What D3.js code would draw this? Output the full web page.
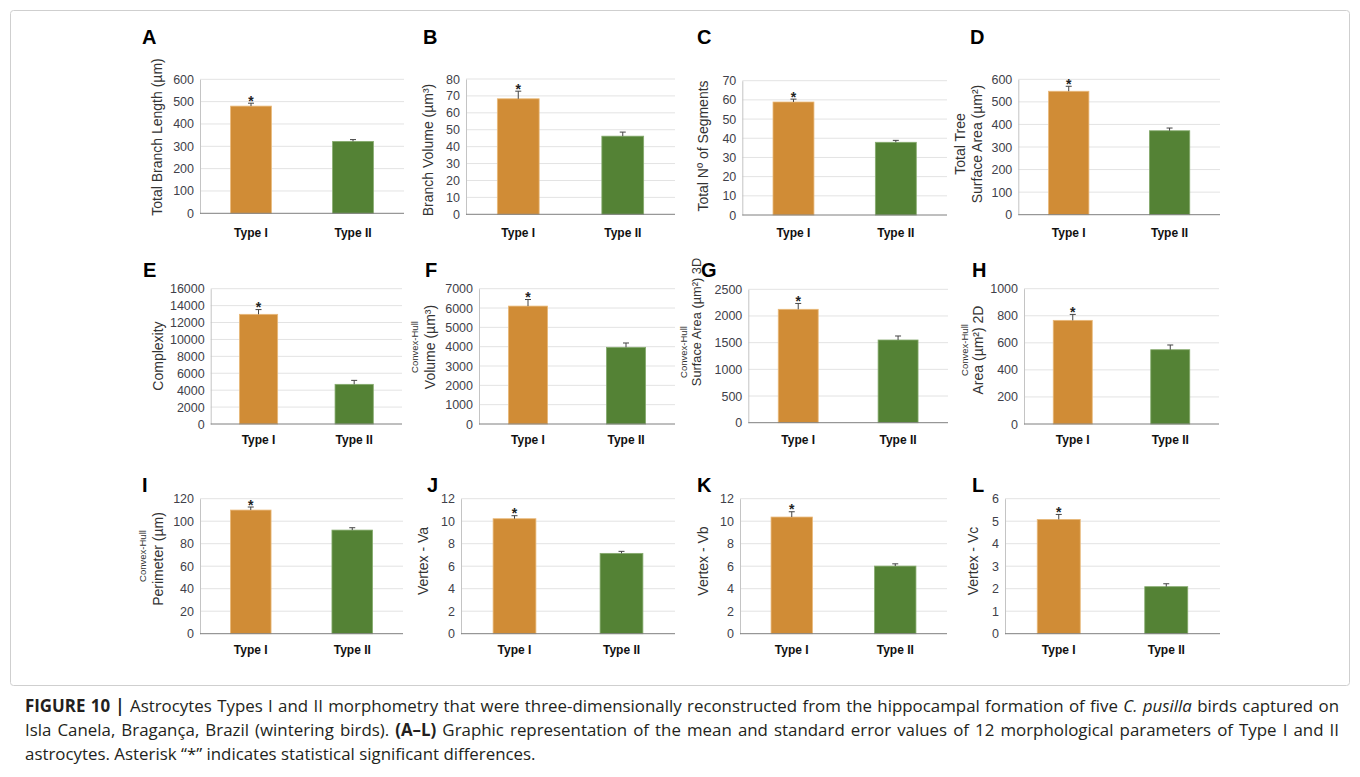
<!DOCTYPE html>
<html>
<head>
<meta charset="utf-8">
<script src="https://cdn.jsdelivr.net/npm/d3@7"></script>
<style>
  body { margin: 0; background: #fff; }
  svg { font-family: "Liberation Sans", Arial, Helvetica, sans-serif; }
</style>
</head>
<body>
<script>
// ---- data ----
const categories = ["Type I", "Type II"];
const panelLetters = ["A", "B", "C", "D", "E", "F", "G", "H", "I", "J", "K", "L"];
const typeIMean  = [480, 68.3, 58.9, 547, 12970, 6100, 2125, 766, 109.9, 10.22, 10.37, 5.08];
const typeISE    = [13, 4.5, 1.5, 22, 560, 340, 110, 44, 2.7, 0.27, 0.47, 0.22];
const typeIIMean = [322, 46.2, 37.9, 372, 4690, 3966, 1550, 549, 92.1, 7.14, 6.01, 2.09];
const typeIISE   = [8, 2.4, 1.0, 12, 470, 225, 75, 35, 2.1, 0.18, 0.2, 0.13];
const yMax  = [600, 80, 70, 600, 16000, 7000, 2500, 1000, 120, 12, 12, 6];
const yStep = [100, 10, 10, 100, 2000, 1000, 500, 200, 20, 2, 2, 1];
const yTitles = [
  ["Total Branch Length (µm)"], ["Branch Volume (µm³)"], ["Total Nº of Segments"],
  ["Total Tree", "Surface Area (µm²)"], ["Complexity"], ["Volume (µm³)"],
  ["Surface Area (µm²) 3D"], ["Area (µm²) 2D"], ["Perimeter (µm)"],
  ["Vertex - Va"], ["Vertex - Vb"], ["Vertex - Vc"]
];
const ySubTitles = ["", "", "", "", "", "Convex-Hull", "Convex-Hull", "Convex-Hull", "Convex-Hull", "", "", ""];
const significant = [true, true, true, true, true, true, true, true, true, true, true, true];

const captionLines = [
  [["b", "FIGURE 10 | "], ["n", "Astrocytes Types I and II morphometry that were three-dimensionally reconstructed from the hippocampal formation of five "], ["i", "C. pusilla"], ["n", " birds captured on"]],
  [["n", "Isla Canela, Bragança, Brazil (wintering birds). "], ["b", "(A–L)"], ["n", " Graphic representation of the mean and standard error values of 12 morphological parameters of Type I and II"]],
  [["n", "astrocytes. Asterisk “*” indicates statistical significant differences."]]
];

// ---- layout (pixel positions of each panel) ----
// x0: y axis, x1: right end of grid, y0: top tick, y1: baseline, lx/ly: letter,
// tx/ty: title centre, ts: title size, sx/sy: sub title centre, cy: category label baseline
const layout = [
  {x0: 200,   x1: 404,  y0: 79.3,  y1: 213.3, lx: 142, ly: 44,  tx: [157], ty: 137, ts: 14, cy: 237},
  {x0: 466,   x1: 675,  y0: 79,    y1: 214.3, lx: 423, ly: 44,  tx: [428], ty: 150, ts: 14, cy: 237},
  {x0: 742.3, x1: 947,  y0: 80.7,  y1: 215,   lx: 697, ly: 44,  tx: [703], ty: 146, ts: 14, cy: 237},
  {x0: 1018.3,x1: 1220, y0: 79.3,  y1: 214.7, lx: 970, ly: 44,  tx: [960, 977.5], ty: 144, ts: 14, cy: 237},
  {x0: 210.7, x1: 402,  y0: 288.7, y1: 424,   lx: 143, ly: 277, tx: [158], ty: 356, ts: 14, cy: 444},
  {x0: 479,   x1: 675,  y0: 288.7, y1: 424,   lx: 425, ly: 277, tx: [430], ty: 347, ts: 14, sx: 415, sy: 347, cy: 444},
  {x0: 748.3, x1: 948,  y0: 289.3, y1: 422.7, lx: 701, ly: 277, tx: [697], ty: 322, ts: 12.8, sx: 684, sy: 352, cy: 444},
  {x0: 1024,  x1: 1219, y0: 288.7, y1: 424,   lx: 972, ly: 277, tx: [978], ty: 350, ts: 14, sx: 965, sy: 350, cy: 444},
  {x0: 200,   x1: 403,  y0: 498.7, y1: 633.7, lx: 142, ly: 492, tx: [158], ty: 559, ts: 14, sx: 143, sy: 556, cy: 654},
  {x0: 461,   x1: 675,  y0: 498.7, y1: 633.7, lx: 427, ly: 492, tx: [423], ty: 561, ts: 14, cy: 654},
  {x0: 740,   x1: 947,  y0: 498.7, y1: 633.7, lx: 697, ly: 492, tx: [703], ty: 561, ts: 14, cy: 654},
  {x0: 1005,  x1: 1220, y0: 498.7, y1: 633.7, lx: 972, ly: 492, tx: [973], ty: 561, ts: 14, cy: 654}
];

const barColors = ["#d08c36", "#548235"];
const barStroke = ["#e9b97a", "#86ab6e"];

const svg = d3.select("body").append("svg")
  .attr("width", 1360).attr("height", 777);

svg.append("rect")
  .attr("x", 10.5).attr("y", 10.5)
  .attr("width", 1339).attr("height", 675)
  .attr("rx", 3)
  .attr("fill", "none").attr("stroke", "#cfcfcf");

panelLetters.forEach((letter, i) => {
  const L = layout[i];
  const g = svg.append("g").attr("class", "panel");

  const x = d3.scaleBand().domain(categories)
    .range([L.x0, L.x1]).paddingInner(0.6).paddingOuter(0.3);
  const y = d3.scaleLinear().domain([0, yMax[i]]).range([L.y1, L.y0]);
  const ticks = d3.range(0, yMax[i] + yStep[i] / 2, yStep[i]);

  // grid
  g.selectAll(".grid").data(ticks.filter(t => t > 0)).join("line")
    .attr("class", "grid")
    .attr("x1", L.x0).attr("x2", L.x1)
    .attr("y1", d => y(d)).attr("y2", d => y(d))
    .attr("stroke", "#e3e3e3");

  // y axis
  const yAxis = d3.axisLeft(y).tickValues(ticks).tickSize(0).tickPadding(6)
    .tickFormat(d3.format("d"));
  const ya = g.append("g").attr("transform", `translate(${L.x0},0)`).call(yAxis);
  ya.select(".domain").attr("stroke", "#c4c4c4");
  ya.selectAll("text")
    .attr("font-size", 12.5).attr("fill", "#3f3f4a")
    .style("font-family", "'Liberation Sans', Arial, sans-serif");

  // bars
  const means = [typeIMean[i], typeIIMean[i]];
  const ses = [typeISE[i], typeIISE[i]];
  g.selectAll(".bar").data(categories).join("rect")
    .attr("class", "bar")
    .attr("x", d => x(d)).attr("width", x.bandwidth())
    .attr("y", (d, k) => y(means[k]))
    .attr("height", (d, k) => y(0) - y(means[k]))
    .attr("fill", (d, k) => barColors[k])
    .attr("stroke", (d, k) => barStroke[k]).attr("stroke-width", 0.8);

  // error bars (upper half)
  categories.forEach((c, k) => {
    const cx = x(c) + x.bandwidth() / 2;
    const top = y(means[k] + ses[k]);
    g.append("line").attr("x1", cx).attr("x2", cx)
      .attr("y1", y(means[k])).attr("y2", top)
      .attr("stroke", "#444").attr("stroke-width", 1);
    g.append("line").attr("x1", cx - 3).attr("x2", cx + 3)
      .attr("y1", top).attr("y2", top)
      .attr("stroke", "#444").attr("stroke-width", 1);
    if (k === 0 && significant[i]) {
      g.append("text").attr("x", cx).attr("y", top + 2.5)
        .attr("text-anchor", "middle").attr("font-size", 14)
        .attr("font-weight", "bold").attr("fill", "#222").text("*");
    }
  });

  // baseline
  g.append("line").attr("x1", L.x0).attr("x2", L.x1)
    .attr("y1", y(0)).attr("y2", y(0))
    .attr("stroke", "#7f7f7f").attr("stroke-width", 1);

  // category labels
  g.selectAll(".cat").data(categories).join("text")
    .attr("class", "cat")
    .attr("x", d => x(d) + x.bandwidth() / 2).attr("y", L.cy)
    .attr("text-anchor", "middle").attr("font-size", 12)
    .attr("font-weight", "bold").attr("fill", "#111").text(d => d);

  // y titles
  yTitles[i].forEach((t, j) => {
    g.append("text")
      .attr("transform", `translate(${L.tx[j]},${L.ty}) rotate(-90)`)
      .attr("text-anchor", "middle").attr("dy", "0.35em")
      .attr("font-size", L.ts).attr("fill", "#333").text(t);
  });
  if (ySubTitles[i]) {
    g.append("text")
      .attr("transform", `translate(${L.sx},${L.sy}) rotate(-90)`)
      .attr("text-anchor", "middle").attr("dy", "0.35em")
      .attr("font-size", 9.5).attr("fill", "#333").text(ySubTitles[i]);
  }

  // panel letter
  g.append("text").attr("x", L.lx).attr("y", L.ly)
    .attr("font-size", 20).attr("font-weight", "bold").attr("fill", "#000")
    .text(letter);
});

// caption: size set so the last (unjustified) line matches, others justified
const capBaselines = [712, 736, 760];
const capLeft = 25, capRight = 1339, lastLineEnd = 548;
const capTexts = captionLines.map((parts, li) => {
  const t = svg.append("text").attr("x", capLeft).attr("y", capBaselines[li])
    .attr("font-size", 15).attr("fill", "#231f20")
    .style("font-family", "'Open Sans', 'Liberation Sans', Arial, sans-serif");
  parts.forEach(([style, str]) => {
    t.append("tspan")
      .attr("font-weight", style === "b" ? "bold" : null)
      .attr("font-style", style === "i" ? "italic" : null)
      .text(str);
  });
  return t;
});
const lastW = capTexts[2].node().getComputedTextLength();
const firstW = capTexts[0].node().getComputedTextLength();
const capSize = Math.min(15 * (lastLineEnd - capLeft) / lastW,
                         15 * (capRight - capLeft - 20) / firstW);
capTexts.forEach((t, li) => {
  t.attr("font-size", capSize);
  if (li < captionLines.length - 1) {
    const w = t.node().getComputedTextLength();
    const spaces = captionLines[li].map(p => p[1]).join("").split(" ").length - 1;
    t.attr("word-spacing", Math.max(0, (capRight - capLeft - w) / spaces));
  }
});
</script>
</body>
</html>
